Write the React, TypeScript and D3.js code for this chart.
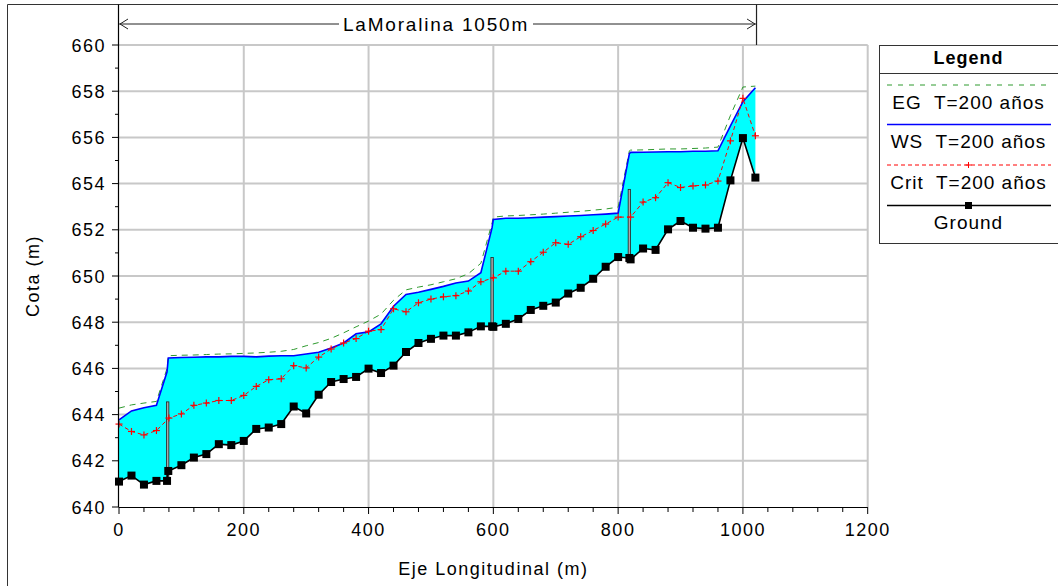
import React from "react";
import * as d3 from "d3";

// ---- data ----
const stations = [0, 20, 40, 60, 77, 79, 100, 120, 140, 160, 180, 200, 220, 240, 260, 280, 300, 320, 340, 360, 380, 400, 420, 440, 460, 480, 500, 520, 540, 560, 580, 598, 600, 620, 640, 660, 680, 700, 720, 740, 760, 780, 800, 818, 820, 840, 860, 880, 900, 920, 940, 960, 980, 1000, 1020];
const groundElev = [641.10, 641.36, 640.97, 641.13, 641.13, 641.56, 641.81, 642.14, 642.29, 642.72, 642.68, 642.86, 643.38, 643.44, 643.59, 644.35, 644.05, 644.86, 645.41, 645.54, 645.63, 645.99, 645.80, 646.12, 646.71, 647.10, 647.28, 647.42, 647.42, 647.56, 647.82, 647.82, 647.80, 647.93, 648.14, 648.53, 648.71, 648.85, 649.24, 649.49, 649.88, 650.40, 650.82, 650.78, 650.72, 651.19, 651.13, 652.02, 652.38, 652.09, 652.05, 652.09, 654.14, 655.97, 654.26];
const wsElev = [643.77, 644.16, 644.30, 644.40, 645.85, 646.45, 646.47, 646.48, 646.50, 646.50, 646.52, 646.52, 646.50, 646.53, 646.55, 646.55, 646.62, 646.70, 646.88, 647.10, 647.50, 647.58, 647.93, 648.69, 649.20, 649.30, 649.42, 649.55, 649.70, 649.78, 650.14, 652.10, 652.45, 652.50, 652.50, 652.52, 652.55, 652.57, 652.60, 652.62, 652.65, 652.68, 652.72, 655.30, 655.35, 655.36, 655.37, 655.38, 655.38, 655.40, 655.40, 655.42, 656.50, 657.55, 658.15];
const egElev = [644.28, 644.42, 644.50, 644.57, 646.00, 646.55, 646.57, 646.58, 646.60, 646.62, 646.63, 646.65, 646.67, 646.70, 646.74, 646.82, 646.98, 647.12, 647.30, 647.54, 647.80, 648.05, 648.35, 648.95, 649.40, 649.52, 649.62, 649.75, 649.88, 650.10, 650.55, 652.30, 652.55, 652.60, 652.62, 652.65, 652.68, 652.72, 652.76, 652.80, 652.85, 652.90, 652.98, 655.42, 655.45, 655.46, 655.48, 655.50, 655.50, 655.52, 655.54, 655.58, 656.95, 658.18, 658.22];

const critStations = [0, 20, 40, 60, 80, 100, 120, 140, 160, 180, 200, 220, 240, 260, 280, 300, 320, 340, 360, 380, 400, 420, 440, 460, 480, 500, 520, 540, 560, 580, 600, 620, 640, 660, 680, 700, 720, 740, 760, 780, 800, 820, 840, 860, 880, 900, 920, 940, 960, 980, 1000, 1020];
const critElev = [643.59, 643.27, 643.12, 643.31, 643.85, 644.03, 644.40, 644.50, 644.61, 644.61, 644.83, 645.22, 645.51, 645.55, 646.12, 646.02, 646.49, 646.84, 647.10, 647.29, 647.61, 647.68, 648.58, 648.45, 648.84, 649.00, 649.10, 649.15, 649.35, 649.75, 649.92, 650.21, 650.21, 650.62, 651.03, 651.44, 651.37, 651.70, 651.97, 652.25, 652.55, 652.55, 653.20, 653.39, 654.04, 653.83, 653.90, 653.94, 654.11, 655.85, 657.69, 656.07];

const bridgeStations = [78, 598, 818];
const bridgeBase = [641.13, 647.82, 650.78];
const bridgeTop = [644.55, 650.80, 653.75];

const xMajorTicks = [0, 200, 400, 600, 800, 1000, 1200];
const xMinorTicks = [40, 80, 120, 160, 240, 280, 320, 360, 440, 480, 520, 560, 640, 680, 720, 760, 840, 880, 920, 960, 1040, 1080, 1120, 1160];
const yMajorTicks = [640, 642, 644, 646, 648, 650, 652, 654, 656, 658, 660];
const yMinorTicks = [641, 643, 645, 647, 649, 651, 653, 655, 657, 659];

const reachStart = 0;
const reachEnd = 1021;
const reachLabel = "LaMoralina 1050m";
const xTitle = "Eje Longitudinal (m)";
const yTitle = "Cota (m)";
const legendTitle = "Legend";
const legendItems = ["EG  T=200 años", "WS  T=200 años", "Crit  T=200 años", "Ground"];

const FONT = "'Liberation Sans', Arial, Helvetica, sans-serif";

export default function App() {
  const W = 1058, H = 586;
  const x = d3.scaleLinear().domain([0, 1200]).range([119, 867.7]);
  const y = d3.scaleLinear().domain([640, 660]).range([507, 45]);

  const idx = d3.range(stations.length);
  const area = d3.area<number>().x((i) => x(stations[i])).y0((i) => y(groundElev[i])).y1((i) => y(wsElev[i]));
  const mk = (arrX: number[], arrY: number[]) =>
    d3.line<number>().x((i) => x(arrX[i])).y((i) => y(arrY[i]))(d3.range(arrX.length)) || "";
  const critIdx = d3.range(critStations.length);

  const x0 = x.range()[0], x1 = x.range()[1];
  const yTop = y.range()[1], yBot = y.range()[0];
  const arrowY = 24;
  const rx0 = x(reachStart), rx1 = x(reachEnd);
  const labelCx = 436, labelHalfW = 97;

  const legX = 879, legY = 45, legW = 200;
  const lineX0 = 887, lineX1 = 1051, legCx = 968.5;
  const rowLineY = [85, 124.5, 165, 205.5];
  const rowTextY = [109, 148, 189, 229];

  const tickFont = { fontFamily: FONT, fontSize: 18, letterSpacing: 1.5, fill: "#000" } as const;

  return (
    <svg width={W} height={H} style={{ position: "absolute", left: 0, top: 0, background: "#fff" }}>
      <rect x={0} y={0} width={W} height={H} fill="#fff" />
      {/* outer frame */}
      <line x1={7.5} y1={4.5} x2={W} y2={4.5} stroke="#333" strokeWidth={1} />
      <line x1={7.5} y1={4.5} x2={7.5} y2={H} stroke="#333" strokeWidth={1} />

      {/* grid */}
      {xMajorTicks.filter((t) => t > 0).map((t) => (
        <line key={"gx" + t} x1={x(t)} x2={x(t)} y1={yTop} y2={yBot} stroke="#c8c8c8" strokeWidth={2} />
      ))}
      {yMajorTicks.filter((t) => t > 640).map((t) => (
        <line key={"gy" + t} x1={x0} x2={x1} y1={y(t)} y2={y(t)} stroke="#c8c8c8" strokeWidth={2} />
      ))}

      {/* water area */}
      <path d={area(idx) || ""} fill="#00ffff" stroke="none" />

      {/* bridges */}
      {bridgeStations.map((s, i) => (
        <rect key={"br" + i} x={x(s) - 1.2} y={y(bridgeTop[i])} width={2.4} height={y(bridgeBase[i]) - y(bridgeTop[i])}
          fill="#a8a8a8" stroke="#222" strokeWidth={0.8} />
      ))}

      {/* EG */}
      <path d={mk(stations, egElev)} fill="none" stroke="#2e9a2e" strokeWidth={1} strokeDasharray="6,5" />
      {/* WS */}
      <path d={mk(stations, wsElev)} fill="none" stroke="#0000ff" strokeWidth={1.6} />
      {/* Crit */}
      <path d={mk(critStations, critElev)} fill="none" stroke="#ff0000" strokeWidth={1} strokeDasharray="4,3" />
      {critIdx.map((i) => (
        <g key={"cp" + i} stroke="#ff0000" strokeWidth={1.2}>
          <line x1={x(critStations[i]) - 3.5} x2={x(critStations[i]) + 3.5} y1={y(critElev[i])} y2={y(critElev[i])} />
          <line x1={x(critStations[i])} x2={x(critStations[i])} y1={y(critElev[i]) - 3.5} y2={y(critElev[i]) + 3.5} />
        </g>
      ))}
      {/* Ground */}
      <path d={mk(stations, groundElev)} fill="none" stroke="#000" strokeWidth={1.6} />
      {idx.map((i) => (
        <rect key={"gp" + i} x={x(stations[i]) - 4} y={y(groundElev[i]) - 4} width={8} height={8} fill="#000" />
      ))}

      {/* axes */}
      <line x1={x0} x2={x1} y1={yBot + 0.5} y2={yBot + 0.5} stroke="#000" strokeWidth={1.2} />
      <line x1={x0 - 0.5} x2={x0 - 0.5} y1={4.5} y2={yBot} stroke="#000" strokeWidth={1.2} />
      {xMajorTicks.map((t) => (
        <g key={"xt" + t}>
          <line x1={x(t)} x2={x(t)} y1={yBot} y2={yBot + 7} stroke="#000" strokeWidth={1} />
          <text x={x(t)} y={536} textAnchor="middle" style={tickFont}>{t}</text>
        </g>
      ))}
      {xMinorTicks.map((t) => (
        <line key={"xm" + t} x1={x(t)} x2={x(t)} y1={yBot} y2={yBot + 5} stroke="#000" strokeWidth={1} />
      ))}
      {yMajorTicks.map((t) => (
        <g key={"yt" + t}>
          <line x1={x0 - 7} x2={x0} y1={y(t)} y2={y(t)} stroke="#000" strokeWidth={1} />
          <text x={106} y={y(t) + 6.5} textAnchor="end" style={tickFont}>{t}</text>
        </g>
      ))}
      {yMinorTicks.map((t) => (
        <line key={"ym" + t} x1={x0 - 4} x2={x0} y1={y(t)} y2={y(t)} stroke="#000" strokeWidth={1} />
      ))}

      <text x={(x0 + x1) / 2} y={575} textAnchor="middle" style={tickFont}>{xTitle}</text>
      <text transform={`translate(39,${(yTop + yBot) / 2}) rotate(-90)`} textAnchor="middle" style={tickFont}>{yTitle}</text>

      {/* reach annotation */}
      <line x1={rx1 + 0.5} x2={rx1 + 0.5} y1={4.5} y2={yTop} stroke="#222" strokeWidth={1.2} />
      <line x1={rx0} x2={rx1} y1={arrowY} y2={arrowY} stroke="#222" strokeWidth={1} />
      <path d={`M${rx0 + 9},${arrowY - 5}L${rx0 + 1},${arrowY}L${rx0 + 9},${arrowY + 5}`} fill="none" stroke="#222" strokeWidth={1} />
      <path d={`M${rx1 - 9},${arrowY - 5}L${rx1 - 1},${arrowY}L${rx1 - 9},${arrowY + 5}`} fill="none" stroke="#222" strokeWidth={1} />
      <rect x={labelCx - labelHalfW} y={arrowY - 9} width={labelHalfW * 2} height={18} fill="#fff" />
      <text x={labelCx} y={arrowY + 7} textAnchor="middle"
        style={{ ...tickFont, fontSize: 19, letterSpacing: 1.8 }}>{reachLabel}</text>

      {/* legend */}
      <rect x={legX + 0.5} y={legY + 0.5} width={legW} height={198} fill="#fff" stroke="#333" strokeWidth={1} />
      <line x1={legX} x2={legX + legW} y1={73.5} y2={73.5} stroke="#333" strokeWidth={1} />
      <text x={legCx} y={64} textAnchor="middle" style={{ fontFamily: FONT, fontSize: 18, fontWeight: "bold", letterSpacing: 1 }}>{legendTitle}</text>
      <line x1={lineX0} x2={lineX1} y1={rowLineY[0]} y2={rowLineY[0]} stroke="#2e9a2e" strokeWidth={1} strokeDasharray="5,6" />
      <line x1={lineX0} x2={lineX1} y1={rowLineY[1]} y2={rowLineY[1]} stroke="#0000ff" strokeWidth={1.6} />
      <line x1={lineX0} x2={lineX1} y1={rowLineY[2]} y2={rowLineY[2]} stroke="#ff0000" strokeWidth={1} strokeDasharray="4,3" />
      <g stroke="#ff0000" strokeWidth={1}>
        <line x1={legCx - 3} x2={legCx + 3} y1={rowLineY[2]} y2={rowLineY[2]} />
        <line x1={legCx} x2={legCx} y1={rowLineY[2] - 3} y2={rowLineY[2] + 3} />
      </g>
      <line x1={lineX0} x2={lineX1} y1={rowLineY[3]} y2={rowLineY[3]} stroke="#000" strokeWidth={1.5} />
      <rect x={legCx - 3.5} y={rowLineY[3] - 3.5} width={7} height={7} fill="#000" />
      {legendItems.map((t, i) => (
        <text key={"lt" + i} x={legCx} y={rowTextY[i]} textAnchor="middle"
          style={{ fontFamily: FONT, fontSize: 19, letterSpacing: 1, whiteSpace: "pre" }}>{t}</text>
      ))}
    </svg>
  );
}
